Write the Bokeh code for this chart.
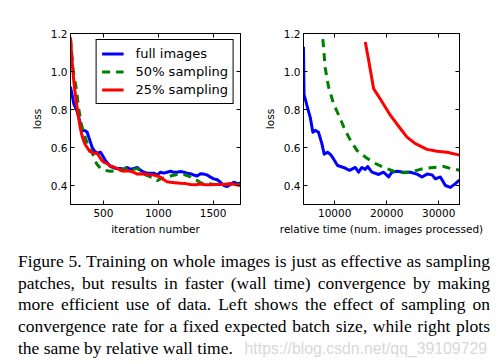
from bokeh.plotting import figure
from bokeh.models import (FixedTicker, LinearAxis, CustomJSTickFormatter, Div,
                          Range1d, PrintfTickFormatter)
from bokeh.layouts import column, row
from bokeh.embed import file_html
from bokeh.resources import INLINE

# ---------------- data ----------------
# left panel: loss vs iteration number
full_it_x = [200, 230, 261, 306, 330, 352, 375, 398, 420, 443, 474, 500, 519, 565, 610, 656,
             690, 717, 747, 777, 808, 840, 869, 900, 929, 960, 990, 1021, 1050, 1081, 1112,
             1140, 1172, 1203, 1235, 1265, 1294, 1325, 1355, 1385, 1415, 1446, 1476, 1507,
             1538, 1568, 1598, 1629, 1659, 1689, 1720, 1750]
full_it_y = [0.92, 0.83, 0.79, 0.69, 0.69, 0.68, 0.64, 0.60, 0.58, 0.57, 0.575, 0.55, 0.53,
             0.50, 0.49, 0.49, 0.485, 0.495, 0.485, 0.49, 0.495, 0.48, 0.47, 0.465, 0.465,
             0.465, 0.455, 0.47, 0.465, 0.47, 0.475, 0.47, 0.47, 0.474, 0.47, 0.465, 0.462,
             0.455, 0.45, 0.462, 0.46, 0.455, 0.444, 0.435, 0.43, 0.417, 0.40, 0.395, 0.405,
             0.417, 0.41, 0.412]

half_it_x = [200, 225, 250, 276, 300, 330, 360, 398, 420, 443, 474, 519, 565, 610, 656, 717,
             747, 777, 808, 838, 869, 929, 960, 990, 1021, 1051, 1081, 1112, 1150, 1203, 1250,
             1294, 1330, 1355, 1385, 1416, 1450, 1507, 1550, 1598, 1650, 1689, 1750]
half_it_y = [1.17, 1.0, 0.92, 0.80, 0.72, 0.66, 0.61, 0.575, 0.535, 0.51, 0.49, 0.479, 0.475,
             0.478, 0.48, 0.496, 0.49, 0.485, 0.49, 0.479, 0.46, 0.445, 0.44, 0.426, 0.435,
             0.44, 0.444, 0.45, 0.455, 0.462, 0.455, 0.445, 0.43, 0.426, 0.415, 0.41, 0.41,
             0.405, 0.405, 0.405, 0.408, 0.41, 0.405]

quarter_it_x = [200, 215, 230, 250, 267, 290, 306, 330, 352, 375, 398, 420, 443, 465, 489,
                512, 534, 558, 580, 626, 656, 686, 717, 747, 777, 808, 838, 869, 900, 929, 960,
                990, 1021, 1050, 1081, 1112, 1150, 1203, 1250, 1294, 1340, 1385, 1430, 1476,
                1520, 1568, 1610, 1659, 1700, 1750]
quarter_it_y = [1.18, 1.05, 0.95, 0.85, 0.78, 0.70, 0.66, 0.62, 0.60, 0.58, 0.575, 0.57, 0.57,
                0.55, 0.53, 0.52, 0.515, 0.505, 0.50, 0.49, 0.48, 0.475, 0.478, 0.475, 0.47,
                0.46, 0.462, 0.46, 0.458, 0.456, 0.455, 0.45, 0.444, 0.43, 0.42, 0.417, 0.415,
                0.412, 0.41, 0.405, 0.404, 0.408, 0.404, 0.404, 0.405, 0.405, 0.407, 0.409,
                0.405, 0.40]

# right panel: loss vs relative time (num. images processed)
full_t_x = [4000, 4100, 4770, 5280, 5800, 6250, 6890, 7530, 7980, 8620, 9140, 9780, 10550,
            11700, 12860, 13950, 14590, 15230, 15880, 16330, 17160, 18450, 19400, 20370, 21000,
            21980, 23260, 24540, 25830, 26790, 27750, 28720, 29360, 30320, 31290, 32250, 33210,
            33850, 34000]
full_t_y = [1.13, 0.88, 0.81, 0.76, 0.68, 0.69, 0.68, 0.62, 0.565, 0.575, 0.565, 0.54, 0.505,
            0.495, 0.48, 0.495, 0.47, 0.495, 0.485, 0.50, 0.47, 0.458, 0.47, 0.445, 0.47, 0.475,
            0.47, 0.47, 0.46, 0.445, 0.46, 0.456, 0.435, 0.445, 0.40, 0.39, 0.41, 0.426, 0.42]

half_t_x = [7720, 8170, 8810, 9780, 10930, 12020, 12990, 14270, 15880, 17480, 19400, 21330,
            23260, 25190, 27110, 29040, 30960, 32250, 34000]
half_t_y = [1.17, 1.02, 0.92, 0.83, 0.76, 0.69, 0.64, 0.585, 0.55, 0.52, 0.495, 0.475, 0.467,
            0.475, 0.49, 0.495, 0.50, 0.49, 0.48]

quarter_t_x = [15880, 16520, 17480, 18770, 20690, 22620, 23900, 25510, 27750, 29680, 31610,
               34000]
quarter_t_y = [1.155, 1.06, 0.91, 0.855, 0.77, 0.70, 0.655, 0.62, 0.59, 0.58, 0.575, 0.56]

y_ticks = [0.4, 0.6, 0.8, 1.0, 1.2]
x_ticks_left = [500, 1000, 1500]
x_ticks_right = [10000, 20000, 30000]

series_labels = ["full images", "50% sampling", "25% sampling"]
series_colors = ["#0000ff", "#008000", "#ff0000"]

caption_lines = [
    "Figure 5. Training on whole images is just as effective as sampling",
    "patches, but results in faster (wall time) convergence by making",
    "more efficient use of data. Left shows the effect of sampling on",
    "convergence rate for a fixed expected batch size, while right plots",
    "the same by relative wall time.",
]
watermark = "https://blog.csdn.net/qq_39109729"

FONT = "DejaVu Sans"


def style_axis(ax, ticks, labels=True):
    ax.ticker = FixedTicker(ticks=ticks)
    ax.minor_tick_line_color = None
    ax.major_tick_in = 4
    ax.major_tick_out = 0
    ax.major_tick_line_color = "black"
    ax.axis_line_color = "black"
    ax.major_label_text_font = FONT
    ax.major_label_text_font_size = "10.5px"
    ax.major_label_text_color = "black"
    ax.axis_label_text_font = FONT
    ax.axis_label_text_font_size = "10.5px"
    ax.axis_label_text_font_style = "normal"
    ax.axis_label_text_color = "black"
    if not labels:
        ax.formatter = CustomJSTickFormatter(code="return ''")
        ax.major_label_standoff = 0


def make_fig(width, xr, xticks, xlabel, bl, br):
    p = figure(width=width, height=246, x_range=Range1d(*xr), y_range=Range1d(0.3, 1.2),
               output_backend="svg", toolbar_location=None,
               min_border_left=bl, min_border_right=br, min_border_top=33,
               min_border_bottom=42)
    p.xgrid.visible = False
    p.ygrid.visible = False
    p.outline_line_color = "black"
    p.outline_line_width = 1
    p.background_fill_color = "white"
    p.border_fill_color = "white"
    style_axis(p.xaxis[0], xticks)
    p.xaxis[0].axis_label = xlabel
    p.xaxis[0].major_label_standoff = 4
    p.xaxis[0].axis_label_standoff = 3
    style_axis(p.yaxis[0], y_ticks)
    p.yaxis[0].formatter = PrintfTickFormatter(format="%.1f")
    p.yaxis[0].axis_label = "loss"
    p.yaxis[0].major_label_standoff = 3
    p.yaxis[0].axis_label_standoff = 5
    top = LinearAxis()
    style_axis(top, xticks, labels=False)
    p.add_layout(top, "above")
    right = LinearAxis()
    style_axis(right, y_ticks, labels=False)
    p.add_layout(right, "right")
    return p


p1 = make_fig(250, (200, 1750), x_ticks_left, "iteration number", 70, 10)
left_data = [(full_it_x, full_it_y), (half_it_x, half_it_y), (quarter_it_x, quarter_it_y)]
for i, (xs, ys) in enumerate(left_data):
    dash = "8 6" if i == 1 else "solid"
    p1.line(xs, ys, line_color=series_colors[i], line_width=3, line_dash=dash,
            line_join="round", legend_label=series_labels[i])

lg = p1.legend[0]
lg.location = "top_right"
lg.margin = 6
lg.padding = 5
lg.spacing = 1
lg.glyph_width = 22
lg.glyph_height = 17
lg.label_height = 17
lg.label_standoff = 12
lg.label_text_font = FONT
lg.label_text_font_size = "13px"
lg.label_text_color = "black"
lg.border_line_color = "black"
lg.border_line_width = 1
lg.border_line_alpha = 1
lg.background_fill_alpha = 1

p2 = make_fig(239, (4000, 34000), x_ticks_right, "relative time (num. images processed)", 53, 30)
right_data = [(full_t_x, full_t_y), (half_t_x, half_t_y), (quarter_t_x, quarter_t_y)]
for i, (xs, ys) in enumerate(right_data):
    dash = "8 6" if i == 1 else "solid"
    p2.line(xs, ys, line_color=series_colors[i], line_width=3, line_dash=dash,
            line_join="round")

line_style = "text-align:justify;text-align-last:justify;"
parts = []
for ln in caption_lines[:-1]:
    parts.append('<div style="%s">%s</div>' % (line_style, ln))
parts.append(
    '<div style="display:flex;justify-content:space-between;align-items:baseline;'
    'padding-right:3px;"><span>%s</span>'
    '<span style="font-family:\'Liberation Sans\';font-size:15.8px;color:#d8d8d8;">%s</span></div>'
    % (caption_lines[-1], watermark))
html = ('<div style="font-family:\'Liberation Serif\';font-size:17.5px;line-height:21.67px;'
        'color:#000;margin:0 0 0 13px;width:472px;">' + "".join(parts) + '</div>')

div = Div(text=html, width=497, height=118, styles={"overflow": "hidden"})

layout = column(row(p1, p2), div)
open("out.html", "w").write(file_html(layout, INLINE))
